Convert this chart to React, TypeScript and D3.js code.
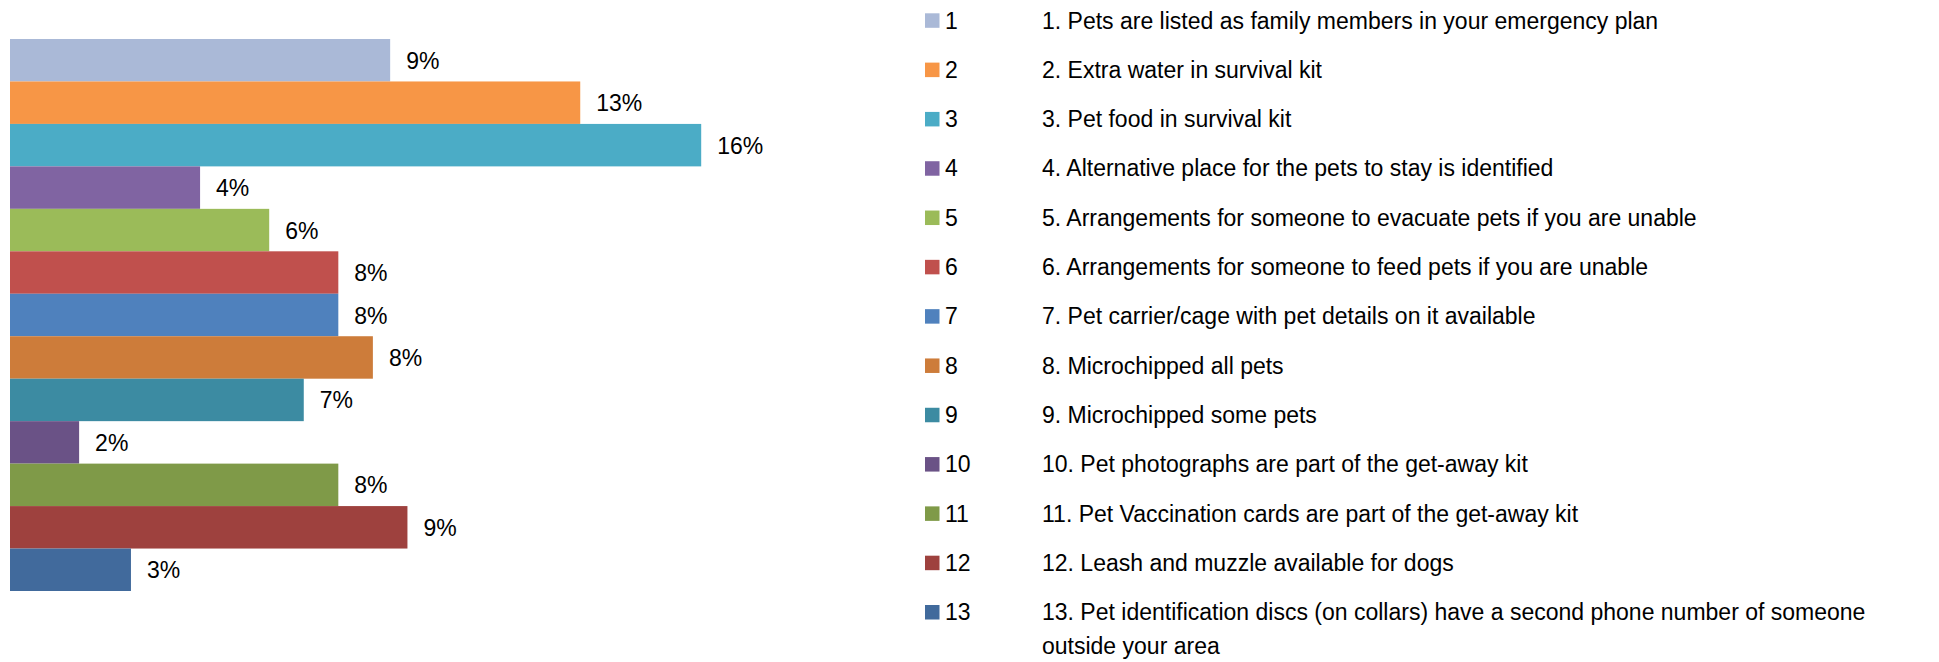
import React, { useRef, useEffect } from "react";
import * as d3 from "d3";

const categories = ["1", "2", "3", "4", "5", "6", "7", "8", "9", "10", "11", "12", "13"];
const values = [8.8, 13.2, 16.0, 4.4, 6.0, 7.6, 7.6, 8.4, 6.8, 1.6, 7.6, 9.2, 2.8];
const colors = [
  "#AAB9D7", "#F79646", "#4BACC6", "#8064A2", "#9BBB59", "#C0504D", "#4F81BD",
  "#CD7C3A", "#3C8BA2", "#6A5286", "#7F9A48", "#9E413E", "#416A9C",
];
const descriptions = [
  "1. Pets are listed as family members in your emergency plan",
  "2. Extra water in survival kit",
  "3. Pet food in survival kit",
  "4. Alternative place for the pets to stay is identified",
  "5. Arrangements for someone to evacuate pets if you are unable",
  "6. Arrangements for someone to feed pets if you are unable",
  "7. Pet carrier/cage with pet details on it available",
  "8. Microchipped all pets",
  "9. Microchipped some pets",
  "10. Pet photographs are part of the get-away kit",
  "11. Pet Vaccination cards are part of the get-away kit",
  "12. Leash and muzzle available for dogs",
  "13. Pet identification discs (on collars) have a second phone number of someone outside your area",
];

const WIDTH = 1939;
const HEIGHT = 662;
const FONT = "'Liberation Sans', Arial, sans-serif";

const App: React.FC = () => {
  const svgRef = useRef<SVGSVGElement | null>(null);

  useEffect(() => {
    const svg = d3.select(svgRef.current);
    svg.selectAll("*").remove();

    const x = d3.scaleLinear().domain([0, 18]).range([10, 10 + 18 * 43.2]);
    const y = d3.scaleBand<string>().domain(categories).range([39, 591]).padding(0);

    const bars = svg.append("g");
    bars.selectAll("rect")
      .data(values)
      .enter()
      .append("rect")
      .attr("x", x(0))
      .attr("y", (d, i) => y(categories[i])!)
      .attr("width", (d) => x(d) - x(0))
      .attr("height", y.bandwidth())
      .attr("fill", (d, i) => colors[i]);

    bars.selectAll("text")
      .data(values)
      .enter()
      .append("text")
      .attr("x", (d) => x(d) + 16)
      .attr("y", (d, i) => y(categories[i])! + y.bandwidth() / 2 + 8.5)
      .style("font-family", FONT)
      .style("font-size", "23px")
      .attr("fill", "#000")
      .text((d) => `${Math.round(d)}%`);

    // legend rows
    const row = d3.scaleLinear().domain([0, 12]).range([20.5, 612.2]);
    const legend = svg.append("g");
    categories.forEach((c, i) => {
      const cy = row(i);
      legend.append("rect")
        .attr("x", 925)
        .attr("y", cy - 7.2)
        .attr("width", 14.5)
        .attr("height", 14.5)
        .attr("fill", colors[i]);
      legend.append("text")
        .attr("x", 945)
        .attr("y", cy + 8)
        .style("font-family", FONT)
        .style("font-size", "23px")
        .text(c);

      const t = legend.append("text")
        .attr("x", 1042)
        .attr("y", cy + 8)
        .style("font-family", FONT)
        .style("font-size", "23px");
      // simple word wrap
      const words = descriptions[i].split(" ");
      let line: string[] = [];
      let tspan = t.append("tspan").attr("x", 1042).attr("dy", 0);
      words.forEach((w) => {
        line.push(w);
        tspan.text(line.join(" "));
        if ((tspan.node() as SVGTSpanElement).getComputedTextLength() > 885 && line.length > 1) {
          line.pop();
          tspan.text(line.join(" "));
          line = [w];
          tspan = t.append("tspan").attr("x", 1042).attr("dy", 34).text(w);
        }
      });
    });
  }, []);

  return (
    <div style={{ position: "absolute", left: 0, top: 0, background: "#fff" }}>
      <svg ref={svgRef} width={WIDTH} height={HEIGHT} style={{ display: "block" }} />
    </div>
  );
};

export default App;
